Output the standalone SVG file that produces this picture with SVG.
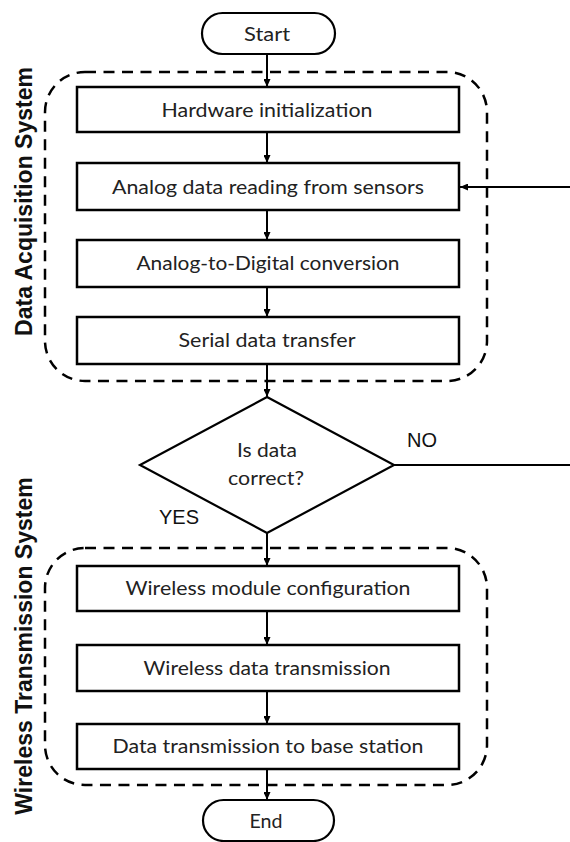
<svg xmlns="http://www.w3.org/2000/svg" width="570" height="842" viewBox="0 0 570 842">
  <defs>
    <marker id="arrow" viewBox="0 0 8 7" refX="8" refY="3.5" markerWidth="8" markerHeight="7" markerUnits="userSpaceOnUse" orient="auto">
      <path d="M0,0 L8,3.5 L0,7 z" fill="#000"/>
    </marker>
    <style>
      .box { fill: #fff; stroke: #000; stroke-width: 2.5; }
      .term { fill: #fff; stroke: #000; stroke-width: 2.2; }
      .group { fill: none; stroke: #000; stroke-width: 2.5; stroke-dasharray: 11 7.5; }
      .diamond { fill: #fff; stroke: #000; stroke-width: 2.2; }
      .link { fill: none; stroke: #000; stroke-width: 2; }
      .arr { marker-end: url(#arrow); }
      .label { font-family: Lato, "Open Sans", "Liberation Sans", sans-serif; font-size: 19.5px; fill: #222; text-anchor: middle; }
      .side { font-family: "Liberation Sans", Arial, sans-serif; font-weight: bold; font-size: 23px; fill: #111; text-anchor: middle; }
      .yn { font-family: "Liberation Sans", Arial, sans-serif; font-size: 20px; fill: #111; }
    </style>
  </defs>

  <rect width="570" height="842" fill="#fff"/>

  <!-- subsystem frames -->
  <g id="daq-system">
    <rect class="group" x="45" y="72" width="442" height="309" rx="40" ry="40"/>
    <text class="side" transform="translate(32,201.5) rotate(-90)">Data Acquisition System</text>
  </g>
  <g id="wireless-system">
    <rect class="group" x="45" y="548" width="442" height="237" rx="40" ry="40"/>
    <text class="side" transform="translate(32,646) rotate(-90)">Wireless Transmission System</text>
  </g>

  <!-- connectors -->
  <g id="connectors">
    <line class="link arr" x1="267" y1="54" x2="267" y2="87"/>
    <line class="link arr" x1="267" y1="132" x2="267" y2="163"/>
    <line class="link arr" x1="267" y1="210" x2="267" y2="240"/>
    <line class="link arr" x1="267" y1="287" x2="267" y2="317"/>
    <line class="link arr" x1="267" y1="364" x2="267" y2="397"/>
    <line class="link arr" x1="267" y1="533" x2="267" y2="566"/>
    <line class="link arr" x1="267" y1="611" x2="267" y2="645"/>
    <line class="link arr" x1="267" y1="691" x2="267" y2="724"/>
    <line class="link arr" x1="267" y1="769" x2="267" y2="800"/>
    <!-- loop back from NO branch -->
    <line class="link" x1="394" y1="465" x2="570" y2="465"/>
    <line class="link arr" x1="570" y1="187" x2="460" y2="187"/>
    <text class="yn" x="407" y="447">NO</text>
    <text class="yn" x="159" y="524">YES</text>
  </g>

  <g id="start">
    <rect class="term" x="202" y="13" width="133" height="41" rx="20.5" ry="20.5"/>
    <text class="label" x="267" y="41" textLength="46" lengthAdjust="spacingAndGlyphs">Start</text>
  </g>

  <g id="hw-init">
    <rect class="box" x="77" y="87" width="382" height="45"/>
    <text class="label" x="267" y="117" textLength="211" lengthAdjust="spacingAndGlyphs">Hardware initialization</text>
  </g>

  <g id="analog-read">
    <rect class="box" x="77" y="163" width="382" height="47"/>
    <text class="label" x="268" y="194" textLength="312" lengthAdjust="spacingAndGlyphs">Analog data reading from sensors</text>
  </g>

  <g id="adc">
    <rect class="box" x="77" y="240" width="382" height="47"/>
    <text class="label" x="268" y="270" textLength="263" lengthAdjust="spacingAndGlyphs">Analog-to-Digital conversion</text>
  </g>

  <g id="serial">
    <rect class="box" x="77" y="317" width="382" height="47"/>
    <text class="label" x="267" y="347" textLength="177" lengthAdjust="spacingAndGlyphs">Serial data transfer</text>
  </g>

  <g id="check">
    <polygon class="diamond" points="267,397 394,465 267,533 140,465"/>
    <text class="label" x="267" y="457" textLength="60" lengthAdjust="spacingAndGlyphs">Is data</text>
    <text class="label" x="266" y="485" textLength="76" lengthAdjust="spacingAndGlyphs">correct?</text>
  </g>

  <g id="wifi-config">
    <rect class="box" x="77" y="566" width="382" height="45"/>
    <text class="label" x="268" y="595" textLength="285" lengthAdjust="spacingAndGlyphs">Wireless module configuration</text>
  </g>

  <g id="wifi-tx">
    <rect class="box" x="77" y="645" width="382" height="46"/>
    <text class="label" x="267" y="675" textLength="247" lengthAdjust="spacingAndGlyphs">Wireless data transmission</text>
  </g>

  <g id="base-tx">
    <rect class="box" x="77" y="724" width="382" height="45"/>
    <text class="label" x="268" y="753" textLength="311" lengthAdjust="spacingAndGlyphs">Data transmission to base station</text>
  </g>

  <g id="end">
    <rect class="term" x="203" y="800" width="131" height="41" rx="20.5" ry="20.5"/>
    <text class="label" x="266" y="828" textLength="33" lengthAdjust="spacingAndGlyphs">End</text>
  </g>
</svg>
